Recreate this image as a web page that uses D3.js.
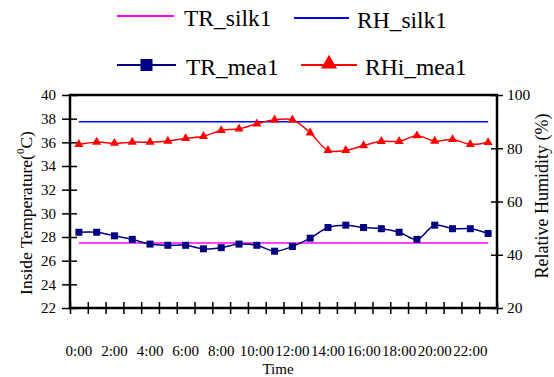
<!DOCTYPE html>
<html><head><meta charset="utf-8">
<script src="https://cdn.jsdelivr.net/npm/d3@7"></script>
<style>body{margin:0;background:#fff} svg{display:block}</style>
</head><body>
<svg id="c" width="554" height="377"></svg>
<script>
const hours = ["0:00","1:00","2:00","3:00","4:00","5:00","6:00","7:00","8:00","9:00","10:00","11:00","12:00","13:00","14:00","15:00","16:00","17:00","18:00","19:00","20:00","21:00","22:00","23:00"];
const trMea1 = [28.4,28.4,28.1,27.8,27.4,27.3,27.3,27.0,27.1,27.4,27.3,26.8,27.2,27.9,28.8,29.0,28.8,28.7,28.4,27.8,29.0,28.7,28.7,28.3];
const rhiMea1 = [81.5,82.3,81.9,82.3,82.3,82.7,83.7,84.5,86.7,87.3,89.2,90.7,90.7,85.8,79.2,79.2,81.0,82.6,82.6,84.7,82.7,83.3,81.5,82.2];
const trSilk1 = [27.5,27.5,27.5,27.5,27.5,27.5,27.5,27.5,27.5,27.5,27.5,27.5,27.5,27.5,27.5,27.5,27.5,27.5,27.5,27.5,27.5,27.5,27.5,27.5];
const rhSilk1 = [90,90,90,90,90,90,90,90,90,90,90,90,90,90,90,90,90,90,90,90,90,90,90,90];
const tempTicks = [22,24,26,28,30,32,34,36,38,40];
const rhTicks = [20,40,60,80,100];
const timeLabels = ["0:00","2:00","4:00","6:00","8:00","10:00","12:00","14:00","16:00","18:00","20:00","22:00"];

const FONT = "Liberation Serif, Tinos, Times New Roman, DejaVu Serif, serif";
const svg = d3.select("#c").attr("font-family", FONT);
const m = {left:70, right:497, top:95, bottom:308};
const x = d3.scaleBand().domain(hours).range([m.left, m.right]).padding(0);
const xb = d3.scaleLinear().domain([0, hours.length]).range([m.left, m.right]);
const yT = d3.scaleLinear().domain([22,40]).range([m.bottom, m.top]);
const yR = d3.scaleLinear().domain([20,100]).range([m.bottom, m.top]);
const cx = h => x(h) + x.bandwidth()/2;

function fixText(sel, size){ sel.attr("font-family", FONT).style("font-size", size+"px").attr("fill","#000"); }

// left axis
const gl = svg.append("g").attr("transform",`translate(${m.left},0)`)
  .call(d3.axisLeft(yT).tickValues(tempTicks).tickSize(8).tickPadding(6));
gl.attr("font-family", FONT);
gl.select(".domain").remove();
gl.selectAll(".tick line").attr("x1",7).attr("stroke","#000").attr("stroke-width",1.5);
fixText(gl.selectAll(".tick text"), 15);

// right axis
const gr = svg.append("g").attr("transform",`translate(${m.right},0)`)
  .call(d3.axisRight(yR).tickValues(rhTicks).tickSize(6).tickPadding(4));
gr.attr("font-family", FONT);
gr.select(".domain").remove();
gr.selectAll(".tick line").attr("x1",-6).attr("stroke","#000").attr("stroke-width",1.5);
fixText(gr.selectAll(".tick text"), 15.5);

// bottom ticks
const gb = svg.append("g").attr("transform",`translate(0,${m.bottom})`)
  .call(d3.axisBottom(xb).tickValues(d3.range(hours.length+1)).tickSize(6).tickFormat(""));
gb.select(".domain").remove();
gb.selectAll(".tick line").attr("y1",-6).attr("stroke","#000").attr("stroke-width",1.5);

// bottom labels
const gx = svg.append("g").attr("transform",`translate(0,${m.bottom})`)
  .call(d3.axisBottom(x).tickValues(timeLabels).tickSize(0).tickPadding(37));
gx.attr("font-family", FONT);
gx.select(".domain").remove();
fixText(gx.selectAll(".tick text"), 15);

// frame
svg.append("rect").attr("x",m.left).attr("y",m.top).attr("width",m.right-m.left).attr("height",m.bottom-m.top)
  .attr("fill","none").attr("stroke","#000").attr("stroke-width",2.5);

// constant lines
const lineT = d3.line().x((d,i)=>cx(hours[i])).y(d=>yT(d));
const lineR = d3.line().x((d,i)=>cx(hours[i])).y(d=>yR(d));
svg.append("path").attr("d",lineT(trSilk1)).attr("fill","none").attr("stroke","#FF00FF").attr("stroke-width",1.5);
svg.append("path").attr("d",lineR(rhSilk1)).attr("fill","none").attr("stroke","#0000FF").attr("stroke-width",1.5);

// measured
const curve = d3.curveCatmullRom.alpha(0.5);
svg.append("path").attr("d",lineT.curve(curve)(trMea1)).attr("fill","none").attr("stroke","#000080").attr("stroke-width",1.5);
svg.append("path").attr("d",lineR.curve(curve)(rhiMea1)).attr("fill","none").attr("stroke","#FF0000").attr("stroke-width",1.5);

svg.append("g").selectAll("rect").data(trMea1).join("rect")
  .attr("x",(d,i)=>cx(hours[i])-3.5).attr("y",d=>yT(d)-3.5).attr("width",7).attr("height",7).attr("fill","#000080");
const tri = d3.symbol().type(d3.symbolTriangle).size(36);
svg.append("g").selectAll("path").data(rhiMea1).join("path")
  .attr("transform",(d,i)=>`translate(${cx(hours[i])},${yR(d)})`).attr("d",tri()).attr("fill","#FF0000");

// axis titles
const tl = svg.append("text").attr("transform","translate(32,213) rotate(-90)").attr("text-anchor","middle");
fixText(tl, 17.5);
tl.append("tspan").text("Inside Temperature(");
tl.append("tspan").text("0").style("font-size","11px").attr("dy","-8");
tl.append("tspan").text("C)").attr("dy","8");
fixText(svg.append("text").attr("transform","translate(548,196) rotate(-90)").attr("text-anchor","middle").text("Relative Humidity (%)"), 18);
fixText(svg.append("text").attr("x",278).attr("y",374).attr("text-anchor","middle").text("Time"), 15);

// legend
const leg = svg.append("g");
const L = [
  {name:"TR_silk1", color:"#FF00FF", x1:117, x2:174, ty:18, tx:184, mk:null},
  {name:"RH_silk1", color:"#0000FF", x1:294, x2:349, ty:20, tx:357, mk:null},
  {name:"TR_mea1", color:"#000080", x1:117, x2:176, ty:67, tx:186, mk:"sq"},
  {name:"RHi_mea1", color:"#FF0000", x1:301, x2:357, ty:67, tx:365, mk:"tri"}
];
L.forEach(l=>{
  leg.append("line").attr("x1",l.x1).attr("x2",l.x2).attr("y1",l.ty-2).attr("y2",l.ty-2).attr("stroke",l.color).attr("stroke-width",2);
  const mx=(l.x1+l.x2)/2;
  if(l.mk==="sq") leg.append("rect").attr("x",mx-6).attr("y",l.ty-8).attr("width",12).attr("height",12).attr("fill",l.color);
  if(l.mk==="tri") leg.append("path").attr("transform",`translate(${mx},${l.ty-3})`).attr("d",d3.symbol().type(d3.symbolTriangle).size(110)()).attr("fill",l.color);
  fixText(leg.append("text").attr("x",l.tx).attr("y",l.ty).attr("dy","0.35em").text(l.name), 23.5);
});
</script>
</body></html>
